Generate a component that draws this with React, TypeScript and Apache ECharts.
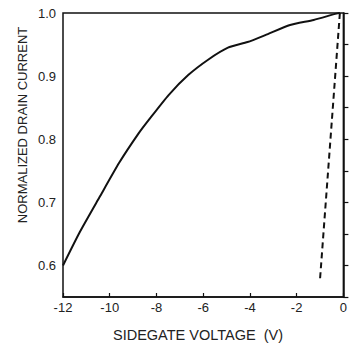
import React, { useEffect, useRef } from "react";
import * as echarts from "echarts";

// Normalized drain current vs. sidegate voltage
const solidVoltage = [-12, -11.28, -10.44, -9.59, -8.75, -8.32, -7.48, -6.63, -5.79, -4.94, -4.1, -3.34, -2.28, -1.27, -0.3, -0.15];
const solidCurrent = [0.6, 0.653, 0.708, 0.763, 0.81, 0.831, 0.87, 0.902, 0.926, 0.945, 0.954, 0.965, 0.981, 0.989, 0.999, 1.0];

const dashedVoltage = [-0.15, -1.0];
const dashedCurrent = [1.0, 0.578];

const xTitle = "SIDEGATE VOLTAGE  (V)";
const yTitle = "NORMALIZED DRAIN CURRENT";

export default function App() {
  const ref = useRef<HTMLDivElement>(null);

  useEffect(() => {
    if (!ref.current) return;
    const chart = echarts.init(ref.current, null, { renderer: "svg" });
    const font = "'Liberation Sans', Arial, sans-serif";
    chart.setOption({
      animation: false,
      backgroundColor: "#fff",
      grid: {
        left: 63,
        top: 13,
        width: 284,
        height: 284,
        show: true,
        borderColor: "#111",
        borderWidth: 1.5,
      },
      xAxis: {
        type: "value",
        min: -12,
        max: 0,
        interval: 2,
        axisLine: { show: true, lineStyle: { color: "#111", width: 1.5 } },
        axisTick: { show: true, inside: true, length: 4, lineStyle: { color: "#111", width: 1.2 } },
        axisLabel: { color: "#222", fontSize: 13, fontFamily: font, margin: 4 },
        splitLine: { show: false },
      },
      yAxis: {
        type: "value",
        min: 0.55,
        max: 1.0,
        interval: 0.05,
        axisLine: { show: true, lineStyle: { color: "#111", width: 1.5 } },
        axisTick: { show: true, inside: true, length: 5, lineStyle: { color: "#111", width: 1.2 } },
        axisLabel: {
          color: "#222",
          fontSize: 13,
          fontFamily: font,
          margin: 7,
          formatter: (v: number) =>
            Math.abs(Math.round(v * 100) % 10) === 0 ? v.toFixed(1) : "",
        },
        splitLine: { show: false },
      },
      series: [
        {
          type: "line",
          data: solidVoltage.map((x, i) => [x, solidCurrent[i]]),
          smooth: 0.2,
          showSymbol: false,
          lineStyle: { color: "#111", width: 2 },
        },
        {
          type: "line",
          data: dashedVoltage.map((x, i) => [x, dashedCurrent[i]]),
          showSymbol: false,
          lineStyle: { color: "#111", width: 2, type: [6, 4] },
        },
      ],
      graphic: [
        {
          type: "text",
          x: 198,
          y: 335,
          style: {
            text: xTitle,
            fontSize: 14.5,
            fontFamily: font,
            fill: "#222",
            align: "center",
            verticalAlign: "middle",
          },
        },
        {
          type: "text",
          x: 22,
          y: 125,
          rotation: Math.PI / 2,
          style: {
            text: yTitle,
            fontSize: 13,
            fontFamily: font,
            fill: "#222",
            align: "center",
            verticalAlign: "middle",
          },
        },
      ],
    });
    return () => chart.dispose();
  }, []);

  return (
    <div
      ref={ref}
      style={{ position: "fixed", left: 0, top: 0, width: 350, height: 347 }}
    />
  );
}
